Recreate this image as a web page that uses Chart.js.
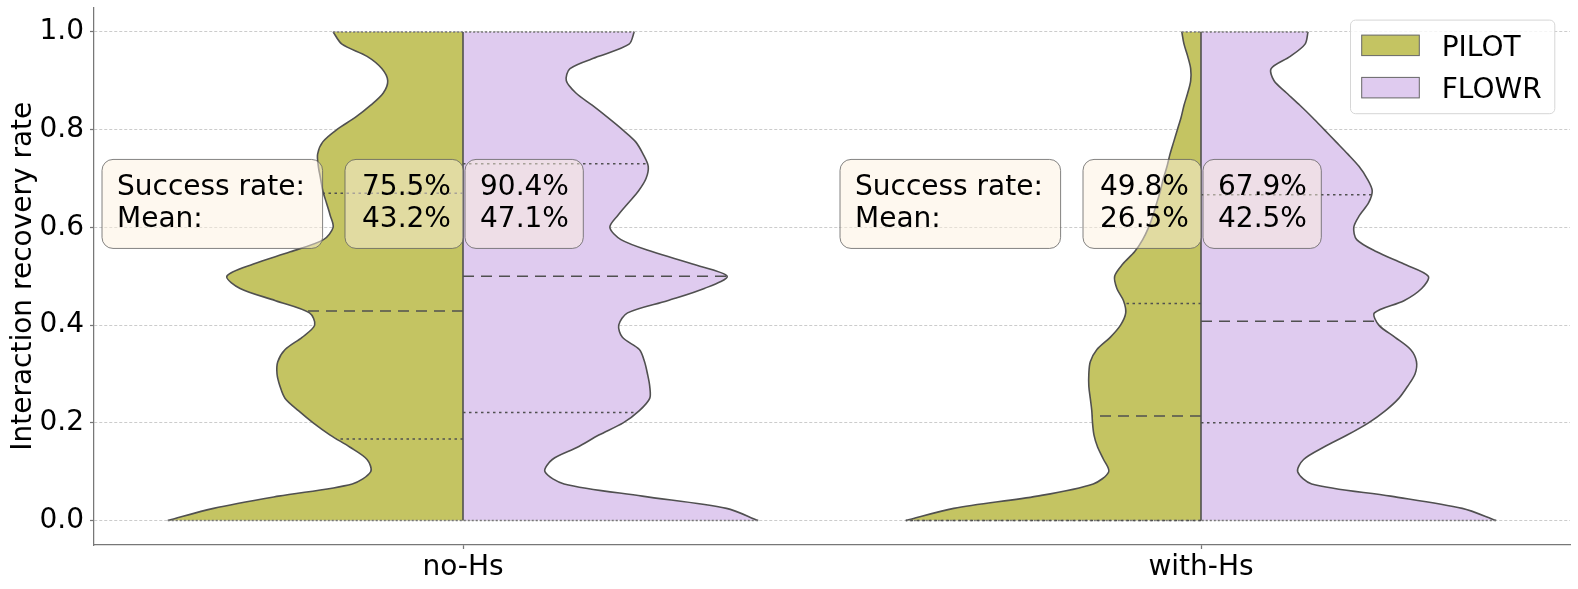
<!DOCTYPE html>
<html lang="en">
<head>
<meta charset="UTF-8" />
<title>Interaction recovery rate</title>
<style>
  html, body { margin: 0; padding: 0; background: #fff; }
  .wrap { width: 1578px; height: 589px; }
</style>
<script src="https://cdn.jsdelivr.net/npm/chart.js"></script>
</head>
<body>
<div class="wrap"><canvas id="violin" width="1578" height="589"></canvas></div>
<script>
// categories and models
const groups = ['no-Hs', 'with-Hs'];
const models = ['PILOT', 'FLOWR'];

// y positions where the violin half-widths were read
const yLevels = [0, 0.025, 0.05, 0.075, 0.1, 0.125, 0.15, 0.175, 0.2, 0.225,
  0.25, 0.275, 0.3, 0.325, 0.35, 0.375, 0.4, 0.425, 0.45, 0.475,
  0.5, 0.525, 0.55, 0.575, 0.6, 0.625, 0.65, 0.675, 0.7, 0.725,
  0.75, 0.775, 0.8, 0.825, 0.85, 0.875, 0.9, 0.925, 0.95, 0.975, 1.0];

// half-widths of each violin (x units)
const pilotNoHs = [0.400, 0.338, 0.250, 0.150, 0.125, 0.130, 0.153, 0.180, 0.203, 0.223,
  0.241, 0.248, 0.252, 0.251, 0.241, 0.218, 0.201, 0.208, 0.254, 0.302,
  0.320, 0.284, 0.234, 0.189, 0.176, 0.180, 0.185, 0.190, 0.193, 0.196,
  0.197, 0.190, 0.171, 0.146, 0.125, 0.108, 0.102, 0.110, 0.130, 0.164, 0.176];
const flowrNoHs = [0.400, 0.357, 0.243, 0.137, 0.111, 0.121, 0.155, 0.184, 0.217, 0.239,
  0.253, 0.253, 0.250, 0.246, 0.239, 0.216, 0.211, 0.223, 0.277, 0.327,
  0.358, 0.311, 0.257, 0.214, 0.199, 0.210, 0.224, 0.238, 0.248, 0.251,
  0.244, 0.234, 0.216, 0.196, 0.175, 0.153, 0.140, 0.145, 0.184, 0.225, 0.232];
const pilotWithHs = [0.400, 0.335, 0.222, 0.146, 0.125, 0.132, 0.140, 0.145, 0.147, 0.148,
  0.150, 0.152, 0.152, 0.150, 0.141, 0.123, 0.109, 0.102, 0.105, 0.114,
  0.117, 0.106, 0.090, 0.079, 0.071, 0.065, 0.060, 0.055, 0.051, 0.046,
  0.042, 0.037, 0.032, 0.027, 0.023, 0.018, 0.014, 0.014, 0.018, 0.023, 0.026];
const flowrWithHs = [0.400, 0.354, 0.257, 0.150, 0.131, 0.139, 0.166, 0.198, 0.227, 0.250,
  0.268, 0.280, 0.290, 0.292, 0.284, 0.263, 0.241, 0.235, 0.275, 0.299,
  0.308, 0.275, 0.238, 0.211, 0.207, 0.215, 0.227, 0.232, 0.225, 0.214,
  0.199, 0.183, 0.167, 0.151, 0.134, 0.116, 0.099, 0.095, 0.121, 0.141, 0.145];

// quartiles (q1, median, q3) per group
const quartPilot = [[0.167, 0.429, 0.670], [0.0, 0.214, 0.444]];
const quartFlowr = [[0.221, 0.500, 0.730], [0.200, 0.408, 0.667]];

// annotation numbers
const successPilot = [75.5, 49.8];
const successFlowr = [90.4, 67.9];
const meanPilot = [43.2, 26.5];
const meanFlowr = [47.1, 42.5];

const yTicks = [0, 0.2, 0.4, 0.6, 0.8, 1.0];

const colors = { PILOT: '#c4c462', FLOWR: '#dfcbef' };
const edge = '#505050';
const FONT = '"DejaVu Sans", sans-serif';

function widthAt(widths, q) {
  for (let i = 0; i < yLevels.length - 1; i++) {
    if (q >= yLevels[i] && q <= yLevels[i + 1]) {
      const t = (q - yLevels[i]) / (yLevels[i + 1] - yLevels[i]);
      return widths[i] + t * (widths[i + 1] - widths[i]);
    }
  }
  return 0;
}

const halves = [
  { g: 0, side: -1, widths: pilotNoHs, model: 'PILOT', quart: quartPilot[0] },
  { g: 0, side: 1, widths: flowrNoHs, model: 'FLOWR', quart: quartFlowr[0] },
  { g: 1, side: -1, widths: pilotWithHs, model: 'PILOT', quart: quartPilot[1] },
  { g: 1, side: 1, widths: flowrWithHs, model: 'FLOWR', quart: quartFlowr[1] }
];

const datasets = [];
halves.forEach(h => {
  datasets.push({
    label: h.model,
    data: yLevels.map((v, i) => ({ x: h.g + h.side * h.widths[i], y: v })),
    backgroundColor: colors[h.model],
    borderColor: edge,
    borderWidth: 1.6,
    fill: { value: h.g },
    tension: 0.3,
    pointRadius: 0,
    order: 3
  });
  h.quart.forEach((q, j) => {
    datasets.push({
      label: 'quart',
      data: [{ x: h.g, y: q }, { x: h.g + h.side * widthAt(h.widths, q), y: q }],
      borderColor: edge,
      borderWidth: 1.5,
      borderDash: j === 1 ? [11, 7] : [2.5, 3.5],
      fill: false,
      pointRadius: 0,
      order: 1
    });
  });
});

// centre line plus bottom / top cut edges of each split violin
groups.forEach((name, i) => {
  const left = halves[i * 2].widths;
  const right = halves[i * 2 + 1].widths;
  const last = yLevels.length - 1;
  datasets.push({
    label: 'centre', data: [{ x: i, y: 0 }, { x: i, y: 1 }],
    borderColor: edge, borderWidth: 1.6, fill: false, pointRadius: 0, order: 1
  });
  datasets.push({
    label: 'edge', data: [{ x: i - left[0], y: 0 }, { x: i + right[0], y: 0 }],
    borderColor: '#777', borderWidth: 1.5, borderDash: [2, 2], fill: false, pointRadius: 0, order: 1
  });
  datasets.push({
    label: 'edge', data: [{ x: i - left[last], y: 1 }, { x: i + right[last], y: 1 }],
    borderColor: '#777', borderWidth: 1.5, borderDash: [2, 2], fill: false, pointRadius: 0, order: 1
  });
});

function roundBox(ctx, x, y, w, h, r) {
  ctx.beginPath();
  ctx.moveTo(x + r, y);
  ctx.arcTo(x + w, y, x + w, y + h, r);
  ctx.arcTo(x + w, y + h, x, y + h, r);
  ctx.arcTo(x, y + h, x, y, r);
  ctx.arcTo(x, y, x + w, y, r);
  ctx.closePath();
}

const statBoxes = {
  id: 'statBoxes',
  afterDatasetsDraw(chart) {
    const { ctx, scales: { x, y } } = chart;
    const yc = y.getPixelForValue(0.648);
    ctx.save();
    ctx.font = '28px ' + FONT;
    groups.forEach((name, i) => {
      const cx = x.getPixelForValue(i);
      const boxes = [[cx - 361, 220.6], [cx - 118, 118.3], [cx + 2, 118.3]];
      boxes.forEach(([bx, bw]) => {
        roundBox(ctx, bx, yc - 44.5, bw, 89, 11);
        ctx.fillStyle = 'rgba(253,241,223,0.5)';
        ctx.fill();
        ctx.strokeStyle = 'rgba(90,90,90,0.75)';
        ctx.lineWidth = 1;
        ctx.stroke();
      });
      ctx.fillStyle = '#000';
      ctx.textAlign = 'left';
      ctx.textBaseline = 'alphabetic';
      ctx.fillText('Success rate:', cx - 346, yc - 8.8);
      ctx.fillText('Mean:', cx - 346, yc + 22.9);
      ctx.textAlign = 'center';
      ctx.fillText(successPilot[i].toFixed(1) + '%', cx - 56.5, yc - 8.8);
      ctx.fillText(meanPilot[i].toFixed(1) + '%', cx - 56.5, yc + 22.9);
      ctx.fillText(successFlowr[i].toFixed(1) + '%', cx + 61.5, yc - 8.8);
      ctx.fillText(meanFlowr[i].toFixed(1) + '%', cx + 61.5, yc + 22.9);
    });
    ctx.restore();
  },
  afterDraw(chart) {
    // legend inside the plot, top right
    const { ctx, chartArea: a } = chart;
    const lx = a.right - 219.5, ly = a.top + 12.6;
    ctx.save();
    roundBox(ctx, lx, ly, 204.3, 93.6, 5);
    ctx.fillStyle = 'rgba(255,255,255,0.8)';
    ctx.fill();
    ctx.strokeStyle = '#d6d6d6';
    ctx.lineWidth = 1;
    ctx.stroke();
    ctx.font = '28px ' + FONT;
    ctx.textAlign = 'left';
    ctx.textBaseline = 'alphabetic';
    models.forEach((m, k) => {
      const py = ly + 15 + k * 42.3;
      ctx.fillStyle = colors[m];
      ctx.fillRect(lx + 11.2, py, 57.6, 20.5);
      ctx.strokeStyle = '#666';
      ctx.lineWidth = 1;
      ctx.strokeRect(lx + 11.2, py, 57.6, 20.5);
      ctx.fillStyle = '#000';
      ctx.fillText(m, lx + 91.2, py + 21);
    });
    ctx.restore();
  }
};

function noPad(s) {
  s.paddingTop = 0; s.paddingBottom = 0; s.paddingLeft = 0; s.paddingRight = 0;
}

new Chart(document.getElementById('violin'), {
  type: 'line',
  data: { datasets },
  plugins: [statBoxes],
  options: {
    responsive: false,
    animation: false,
    indexAxis: 'y',
    layout: { padding: { left: 0, right: 8, top: 7.5, bottom: 0 } },
    plugins: { legend: { display: false }, tooltip: { enabled: false } },
    scales: {
      x: {
        type: 'linear', min: -0.5, max: 1.5,
        afterBuildTicks: s => { s.ticks = groups.map((g, i) => ({ value: i })); },
        afterFit: s => { s.height = 44; noPad(s); },
        ticks: { callback: v => groups[v], color: '#000', font: { family: FONT, size: 28 }, padding: 2, maxRotation: 0 },
        grid: { drawOnChartArea: false, drawTicks: true, tickLength: 4, tickColor: '#777', tickWidth: 1.25 },
        border: { color: '#777', width: 1.25 }
      },
      y: {
        type: 'linear', min: -0.05, max: 1.05,
        afterBuildTicks: s => { s.ticks = yTicks.map(v => ({ value: v })); },
        afterFit: s => { s.width = 94; noPad(s); },
        ticks: { callback: v => v.toFixed(1), color: '#000', font: { family: FONT, size: 28 }, padding: 6 },
        grid: { color: 'rgba(180,180,180,0.85)', lineWidth: 0.8, tickLength: 4, tickColor: '#777', tickWidth: 1.25, tickBorderDash: [] },
        border: { color: '#777', width: 1.25, dash: [3, 2] },
        title: { display: true, text: 'Interaction recovery rate', color: '#000', font: { family: FONT, size: 28 }, padding: { top: 7, bottom: 0 } }
      }
    }
  }
});
</script>
</body>
</html>
